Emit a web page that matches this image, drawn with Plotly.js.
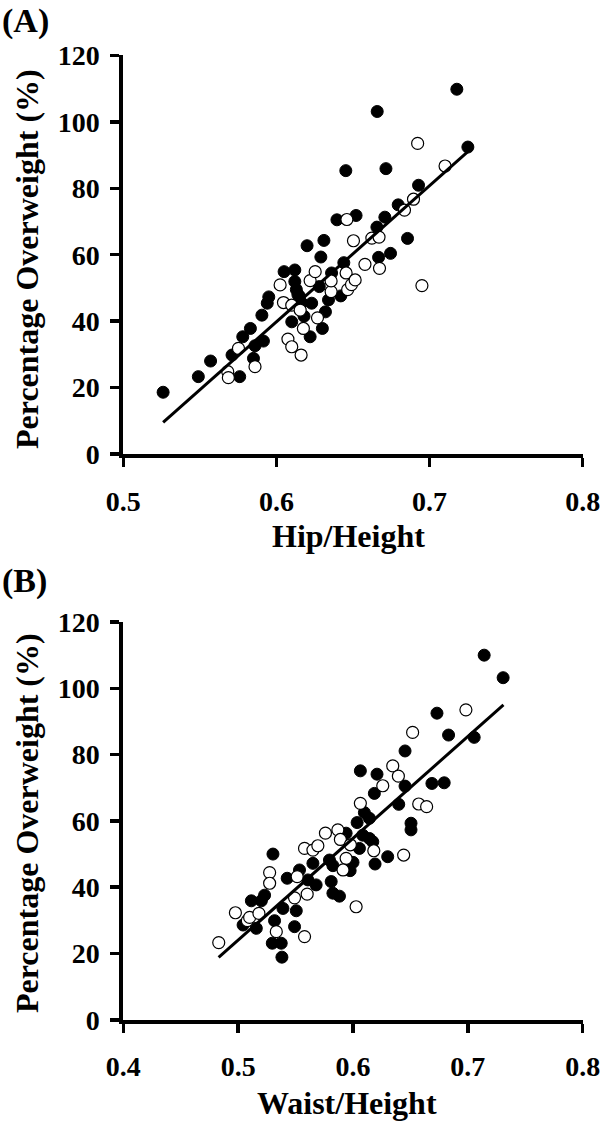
<!DOCTYPE html>
<html>
<head>
<meta charset="utf-8">
<script src="https://cdn.plot.ly/plotly-3.0.1.min.js"></script>
<style>html,body{margin:0;padding:0;background:#fff;}#chart{width:600px;height:1125px;}</style>
</head>
<body>
<div id="chart"></div>
<script>
// Panel A: Hip/Height vs Percentage Overweight
const hipFilledX = [0.526,0.549,0.557,0.571,0.576,0.578,0.583,0.585,0.586,0.5915,0.5905,0.594,0.595,0.605,0.612,0.612,0.613,0.615,0.614,0.6165,0.610,0.618,0.622,0.620,0.623,0.628,0.629,0.631,0.630,0.632,0.634,0.636,0.6395,0.642,0.644,0.6453,0.652,0.6658,0.6656,0.6667,0.6708,0.6715,0.6745,0.6795,0.6856,0.6928,0.7178,0.725];
const hipFilledY = [18.6,23.3,28.0,29.8,23.3,35.3,37.8,28.8,32.6,34.0,41.8,45.4,47.3,54.9,55.4,51.9,49.5,47.5,48.0,45.5,39.8,41.5,35.3,62.7,45.4,50.4,59.3,64.3,37.8,42.8,46.4,54.5,70.5,47.6,57.6,85.3,71.8,103.1,68.3,59.2,71.3,85.9,60.4,75.0,64.9,80.9,109.8,92.4];
const hipOpenX = [0.5682,0.5686,0.5752,0.586,0.6024,0.6046,0.6075,0.610,0.610,0.6155,0.6161,0.6176,0.622,0.6253,0.6268,0.6357,0.6357,0.6455,0.6465,0.649,0.6514,0.646,0.6503,0.6578,0.6623,0.667,0.6673,0.6836,0.6895,0.6922,0.7101,0.695];
const hipOpenY = [24.8,23.0,31.8,26.3,50.9,45.6,34.6,32.3,44.8,43.3,29.8,37.8,52.2,54.9,41.0,48.9,52.1,54.5,49.5,51.0,52.4,70.6,64.2,57.1,65.0,65.3,55.9,73.4,76.7,93.5,86.7,50.7];
const hipFitX = [0.526,0.725];
const hipFitY = [9.5,91.0];

// Panel B: Waist/Height vs Percentage Overweight
const waistFilledX = [0.5381,0.5297,0.5375,0.5317,0.5491,0.5506,0.539,0.5158,0.5043,0.5115,0.5202,0.523,0.5303,0.5427,0.5534,0.5651,0.5607,0.5679,0.581,0.5882,0.5825,0.5795,0.5825,0.594,0.5975,0.600,0.6036,0.6056,0.6064,0.6085,0.6099,0.6143,0.6143,0.6172,0.6186,0.6192,0.6209,0.6302,0.6398,0.6453,0.6453,0.6505,0.6505,0.6687,0.6731,0.6794,0.6832,0.7055,0.7142,0.7307];
const waistFilledY = [18.9,23.1,23.1,29.9,28.1,32.9,33.6,27.6,28.6,35.9,35.9,37.6,50.0,42.7,45.2,47.2,42.2,40.7,41.7,37.3,38.2,48.2,46.5,56.3,45.0,47.5,59.5,51.7,75.1,55.7,62.5,60.8,54.7,53.7,68.3,47.0,74.1,49.2,65.0,81.1,70.5,59.3,57.3,71.3,92.5,71.5,85.9,85.2,110.0,103.2];
const waistOpenX = [0.4831,0.4976,0.508,0.51,0.5181,0.5274,0.5274,0.5332,0.5491,0.5514,0.5578,0.5601,0.5578,0.5651,0.5694,0.576,0.5868,0.589,0.594,0.5913,0.5977,0.6027,0.6064,0.6181,0.6259,0.6346,0.6395,0.6441,0.6519,0.6572,0.6641,0.6983];
const waistOpenY = [23.3,32.3,29.9,30.9,32.1,44.4,41.2,26.6,36.8,43.2,25.1,37.9,51.7,51.2,52.5,56.3,57.3,54.4,48.7,45.2,52.8,34.1,65.3,51.0,70.6,76.6,73.5,49.7,86.7,65.1,64.3,93.5];
const waistFitX = [0.483,0.731];
const waistFitY = [18.8,95.0];

const yTicks = [0,20,40,60,80,100,120];
const yTickText = ['0','20','40','60','80','100','120'];
const hipTicks = [0.5,0.6,0.7,0.8];
const hipTickText = ['0.5','0.6','0.7','0.8'];
const waistTicks = [0.4,0.5,0.6,0.7,0.8];
const waistTickText = ['0.4','0.5','0.6','0.7','0.8'];

const bold = arr => arr.map(s => '<b>' + s + '</b>');

const serif = 'Liberation Serif, Times New Roman, serif';
const tickFont = {family: serif, size: 28, color: '#000', weight: 'bold'};
const titleFont = {family: serif, size: 32, color: '#000', weight: 'bold'};

function filled(x, y, xa, ya) {
  return {x, y, xaxis: xa, yaxis: ya, type: 'scatter', mode: 'markers', showlegend: false,
    marker: {size: 12, color: '#000', line: {color: '#000', width: 1}}};
}
function open(x, y, xa, ya) {
  return {x, y, xaxis: xa, yaxis: ya, type: 'scatter', mode: 'markers', showlegend: false,
    marker: {size: 12, color: '#fff', line: {color: '#000', width: 1.2}}};
}
function fit(x, y, xa, ya) {
  return {x, y, xaxis: xa, yaxis: ya, type: 'scatter', mode: 'lines', showlegend: false,
    line: {color: '#000', width: 3}};
}

const data = [
  filled(hipFilledX, hipFilledY, 'x', 'y'),
  open(hipOpenX, hipOpenY, 'x', 'y'),
  fit(hipFitX, hipFitY, 'x', 'y'),
  filled(waistFilledX, waistFilledY, 'x2', 'y2'),
  open(waistOpenX, waistOpenY, 'x2', 'y2'),
  fit(waistFitX, waistFitY, 'x2', 'y2')
];

const axisCommon = {
  showline: true, linewidth: 4, linecolor: '#000', ticks: 'outside', ticklen: 9, tickwidth: 3.5,
  tickcolor: '#000', showgrid: false, zeroline: false, tickfont: tickFont, fixedrange: true,
  ticklabeloverflow: 'allow'
};

const layout = {
  width: 600, height: 1125,
  margin: {l: 0, r: 0, t: 0, b: 0},
  paper_bgcolor: '#fff', plot_bgcolor: '#fff',
  showlegend: false,
  xaxis: Object.assign({}, axisCommon, {domain: [0.2055, 0.9712], range: [0.5, 0.8], tickmode: 'array', tickvals: hipTicks, ticktext: bold(hipTickText), anchor: 'y', ticklabelstandoff: 10}),
  yaxis: Object.assign({}, axisCommon, {domain: [0.5964, 0.9508], range: [0, 120], tickmode: 'array', tickvals: yTicks, ticktext: bold(yTickText), anchor: 'x', ticklabelstandoff: 5}),
  xaxis2: Object.assign({}, axisCommon, {domain: [0.2055, 0.9712], range: [0.4, 0.8], tickmode: 'array', tickvals: waistTicks, ticktext: bold(waistTickText), anchor: 'y2', ticklabelstandoff: 10}),
  yaxis2: Object.assign({}, axisCommon, {domain: [0.0935, 0.4471], range: [0, 120], tickmode: 'array', tickvals: yTicks, ticktext: bold(yTickText), anchor: 'x2', ticklabelstandoff: 5}),
  annotations: [
    {text: '(A)', xref: 'paper', yref: 'paper', x: 0, y: 1.0, xanchor: 'left', yanchor: 'top', showarrow: false, font: {family: serif, size: 34, color: '#000', weight: 'bold'}},
    {text: '(B)', xref: 'paper', yref: 'paper', x: 0, y: 0.5022, xanchor: 'left', yanchor: 'top', showarrow: false, font: {family: serif, size: 34, color: '#000', weight: 'bold'}},
    {text: 'Hip/Height', xref: 'paper', yref: 'paper', x: 0.581, y: 0.5236, xanchor: 'center', yanchor: 'middle', showarrow: false, font: titleFont},
    {text: 'Waist/Height', xref: 'paper', yref: 'paper', x: 0.579, y: 0.0198, xanchor: 'center', yanchor: 'middle', showarrow: false, font: titleFont},
    {text: 'Percentage Overweight (%)', xref: 'paper', yref: 'paper', x: 0.045, y: 0.7698, xanchor: 'center', yanchor: 'middle', textangle: -90, showarrow: false, font: titleFont},
    {text: 'Percentage Overweight (%)', xref: 'paper', yref: 'paper', x: 0.045, y: 0.2684, xanchor: 'center', yanchor: 'middle', textangle: -90, showarrow: false, font: titleFont}
  ]
};

Plotly.newPlot('chart', data, layout, {displayModeBar: false, staticPlot: true});
</script>
</body>
</html>
